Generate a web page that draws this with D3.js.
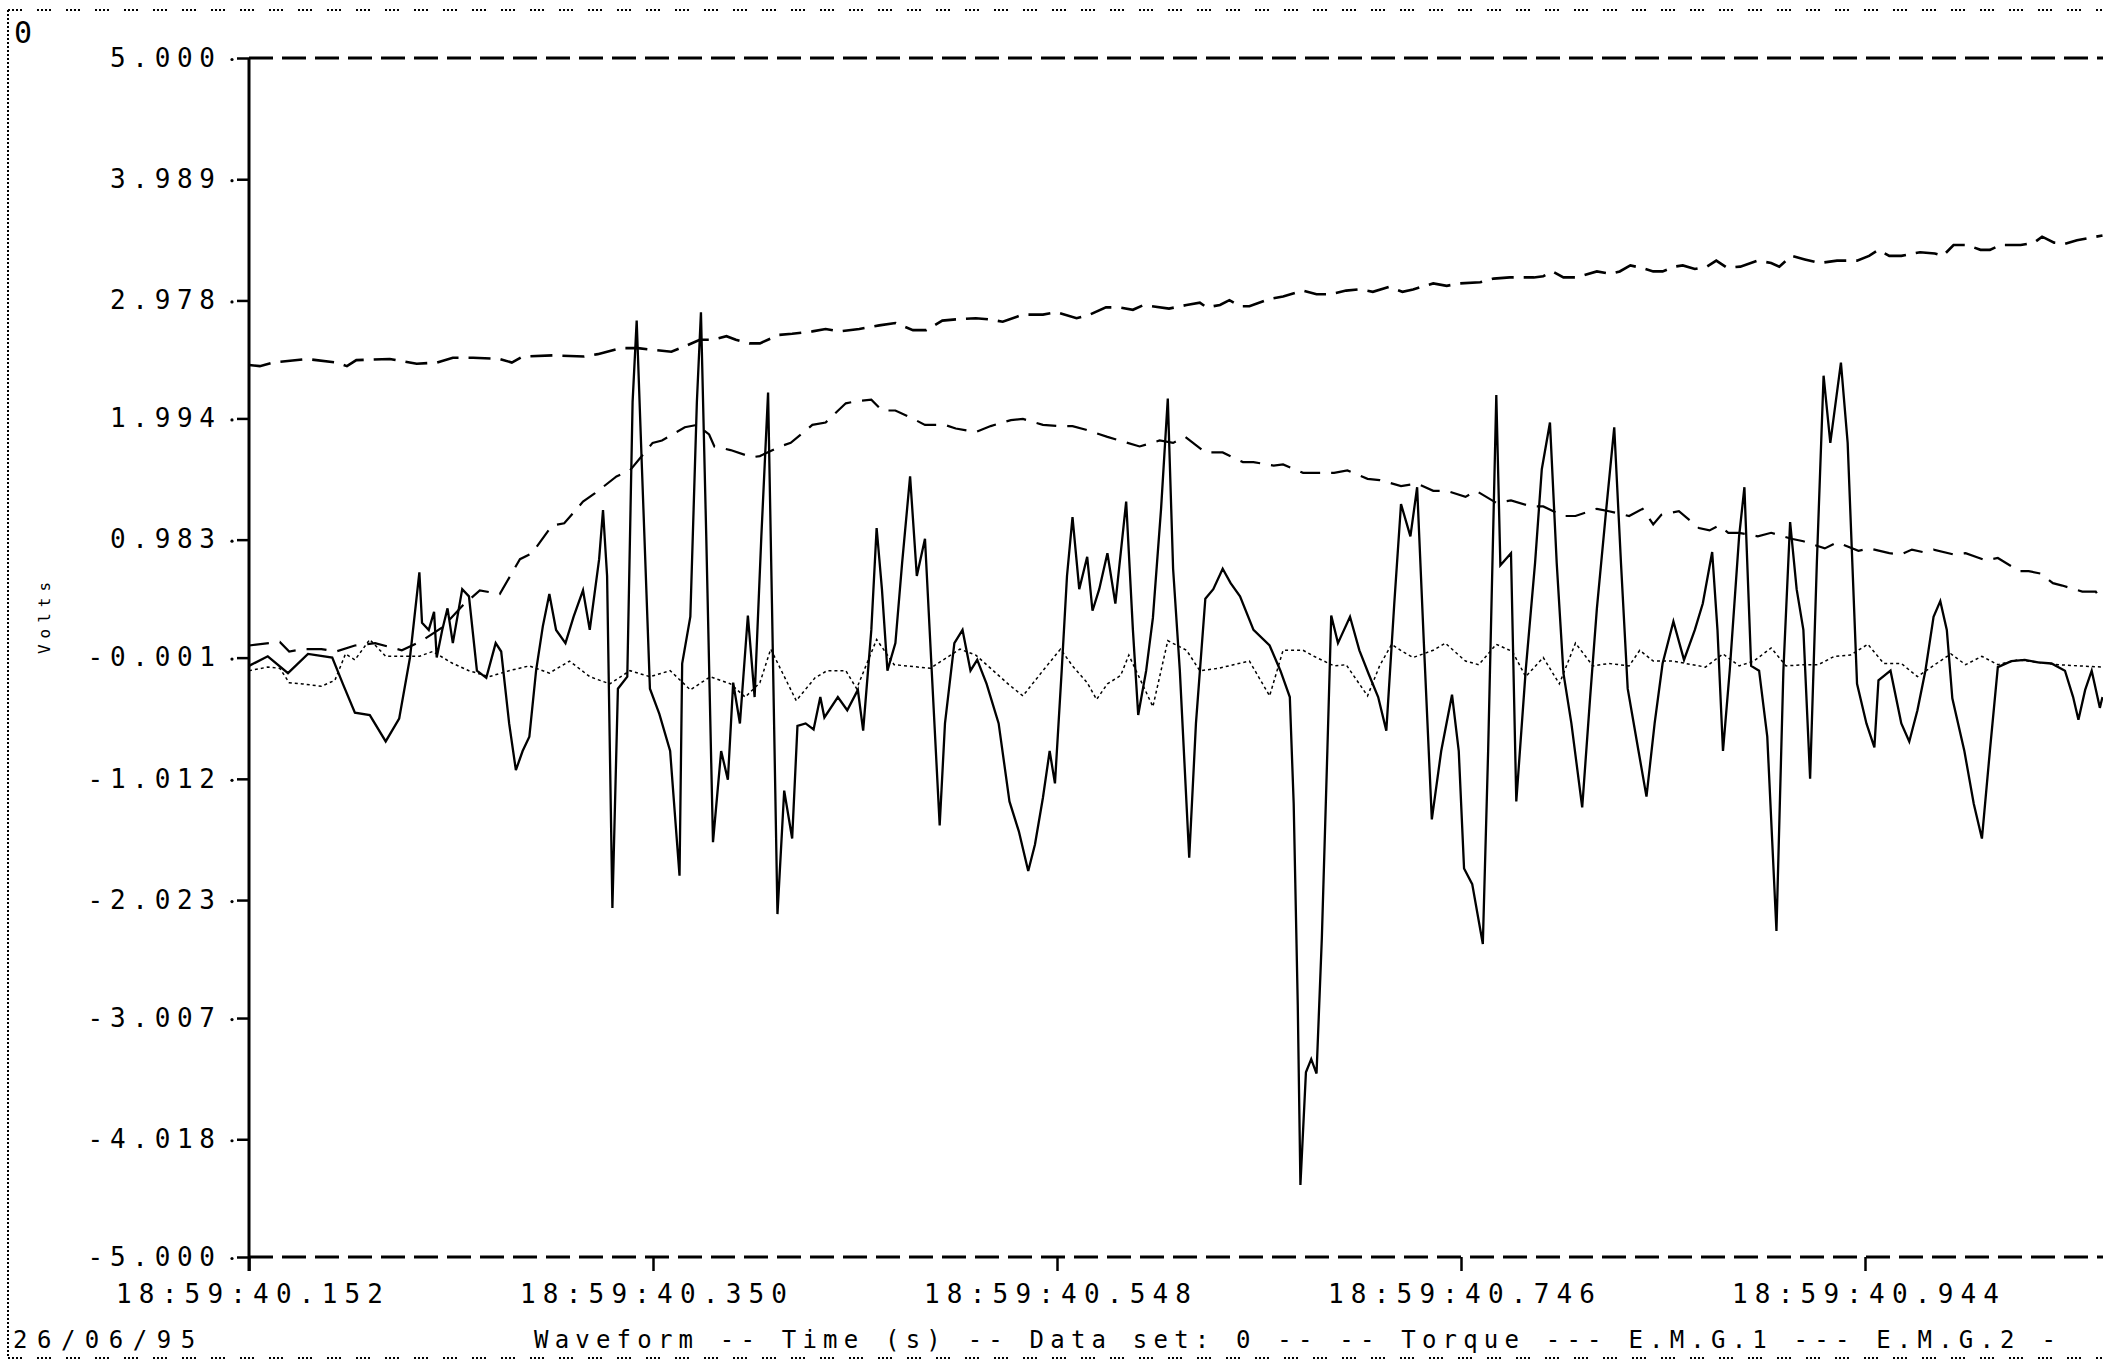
<!DOCTYPE html>
<html><head><meta charset="utf-8">
<script src="https://cdn.jsdelivr.net/npm/d3@7"></script>
<style>html,body{margin:0;padding:0;background:#fff;overflow:hidden}</style>
</head><body>
<script>
// ---- axis tick data ----
const yTickValues = [5.000, 3.989, 2.978, 1.994, 0.983, -0.001, -1.012, -2.023, -3.007, -4.018, -5.000];
const yTickLabels = ["5.000","3.989","2.978","1.994","0.983","-0.001","-1.012","-2.023","-3.007","-4.018","-5.000"];
// time in ms after 18:59:40
const xTickValues = [152, 350, 548, 746, 944];
const xTickLabels = ["18:59:40.152","18:59:40.350","18:59:40.548","18:59:40.746","18:59:40.944"];
const yTitle = "Volts";
const dateText = "26/06/95";
const footerText = "Waveform -- Time (s) -- Data set: 0 -- -- Torque --- E.M.G.1 --- E.M.G.2 -";
const cornerText = "0";

// ---- series: [time ms, volts] ----
const torque = [[152.0,2.44],[157.3,2.43],[163.8,2.46],[180.3,2.49],[194.7,2.46],[200.0,2.43],[204.6,2.48],[221.0,2.49],[234.2,2.45],[244.0,2.46],[251.9,2.50],[261.8,2.50],[274.9,2.49],[280.8,2.46],[286.1,2.51],[301.2,2.52],[316.3,2.51],[322.9,2.53],[334.1,2.58],[342.6,2.58],[359.0,2.55],[366.3,2.60],[372.9,2.65],[379.4,2.65],[386.0,2.68],[390.6,2.65],[397.2,2.62],[402.4,2.62],[411.6,2.69],[418.2,2.70],[428.1,2.72],[434.6,2.74],[441.2,2.72],[451.1,2.74],[460.9,2.77],[468.8,2.79],[477.4,2.73],[483.9,2.73],[491.8,2.81],[498.4,2.82],[508.2,2.83],[514.8,2.82],[521.4,2.80],[531.3,2.86],[541.1,2.86],[547.7,2.88],[557.6,2.83],[564.1,2.86],[572.0,2.92],[578.6,2.92],[585.2,2.90],[590.4,2.94],[602.9,2.91],[611.5,2.94],[618.0,2.96],[621.3,2.92],[627.9,2.94],[632.5,2.98],[637.7,2.93],[642.3,2.93],[652.2,2.99],[658.8,3.01],[668.6,3.06],[675.2,3.03],[681.8,3.03],[689.7,3.06],[696.2,3.07],[702.8,3.05],[710.7,3.09],[717.3,3.05],[722.5,3.07],[732.4,3.12],[739.0,3.10],[745.5,3.12],[755.4,3.13],[762.0,3.16],[769.9,3.17],[781.7,3.17],[786.3,3.18],[790.9,3.22],[796.2,3.17],[802.7,3.17],[812.6,3.22],[819.2,3.20],[823.8,3.22],[829.0,3.27],[834.3,3.25],[840.2,3.22],[844.8,3.22],[850.7,3.26],[854.7,3.27],[860.6,3.24],[866.5,3.26],[871.1,3.31],[876.4,3.25],[882.9,3.26],[891.5,3.31],[898.0,3.29],[902.0,3.26],[907.9,3.35],[914.5,3.32],[921.7,3.29],[930.3,3.31],[940.1,3.31],[946.0,3.35],[950.6,3.40],[955.9,3.35],[961.8,3.35],[971.0,3.38],[978.2,3.37],[982.2,3.35],[987.4,3.44],[994.0,3.44],[1000.6,3.40],[1005.2,3.40],[1010.4,3.44],[1020.3,3.44],[1026.9,3.46],[1030.8,3.51],[1036.7,3.46],[1042.0,3.45],[1047.9,3.48],[1060.4,3.52]];

const emg1 = [[152.0,0.10],[167.1,0.13],[171.7,0.05],[178.3,0.07],[187.5,0.07],[194.7,0.05],[203.9,0.10],[213.8,0.12],[226.9,0.06],[236.8,0.14],[246.7,0.25],[256.5,0.43],[265.1,0.56],[274.9,0.53],[284.8,0.82],[290.7,0.87],[300.5,1.10],[306.5,1.12],[315.7,1.30],[321.6,1.37],[332.1,1.51],[338.7,1.56],[349.8,1.79],[354.4,1.81],[365.6,1.92],[371.5,1.94],[377.5,1.86],[380.1,1.76],[388.0,1.73],[398.5,1.67],[402.4,1.68],[412.3,1.76],[417.5,1.79],[428.1,1.94],[434.6,1.96],[444.5,2.12],[450.4,2.14],[457.0,2.15],[462.2,2.06],[468.8,2.06],[478.7,1.98],[483.3,1.94],[493.1,1.94],[498.4,1.91],[508.2,1.88],[515.5,1.93],[525.4,1.98],[531.3,1.99],[541.1,1.94],[549.0,1.93],[555.6,1.93],[562.2,1.90],[572.7,1.84],[578.6,1.81],[588.5,1.76],[598.3,1.81],[604.9,1.79],[610.8,1.84],[620.7,1.71],[629.2,1.71],[639.1,1.63],[644.3,1.63],[654.2,1.60],[658.8,1.61],[668.6,1.54],[673.9,1.54],[683.8,1.54],[690.3,1.56],[700.2,1.49],[706.1,1.48],[716.6,1.43],[724.5,1.45],[732.4,1.39],[739.0,1.39],[748.2,1.34],[753.4,1.39],[763.3,1.29],[770.5,1.31],[780.4,1.26],[786.3,1.26],[796.2,1.18],[802.1,1.18],[812.6,1.24],[818.5,1.22],[828.4,1.18],[835.0,1.24],[840.2,1.11],[844.2,1.19],[852.8,1.22],[862.6,1.08],[867.8,1.06],[872.4,1.10],[877.0,1.04],[882.3,1.04],[891.5,1.01],[898.0,1.04],[907.9,0.99],[913.8,0.97],[924.3,0.91],[930.3,0.96],[940.8,0.89],[946.0,0.91],[955.9,0.87],[961.8,0.86],[967.0,0.90],[972.3,0.88],[977.6,0.90],[987.4,0.86],[993.3,0.87],[1003.2,0.81],[1009.1,0.83],[1019.6,0.72],[1024.2,0.72],[1030.1,0.70],[1036.1,0.62],[1040.7,0.60],[1050.5,0.55],[1057.1,0.55],[1060.4,0.46]];

const emg2 = [[152.0,-0.07],[161.2,0.01],[171.1,-0.13],[180.9,0.03],[192.8,0.00],[198.0,-0.22],[203.9,-0.46],[211.2,-0.48],[219.0,-0.70],[225.6,-0.51],[230.9,0.00],[235.5,0.71],[236.8,0.29],[240.1,0.23],[242.7,0.38],[244.0,0.00],[246.7,0.23],[249.3,0.41],[251.9,0.12],[256.5,0.57],[259.8,0.51],[263.7,-0.11],[268.3,-0.17],[272.9,0.12],[275.6,0.05],[279.5,-0.55],[282.8,-0.94],[286.1,-0.78],[289.4,-0.66],[292.7,-0.11],[296.0,0.26],[299.2,0.53],[302.5,0.23],[307.1,0.12],[311.1,0.34],[315.7,0.56],[319.0,0.23],[323.6,0.82],[325.5,1.23],[327.5,0.68],[330.1,-2.09],[332.8,-0.26],[337.4,-0.16],[340.0,2.13],[342.0,2.81],[344.6,1.57],[348.5,-0.26],[353.1,-0.47],[358.4,-0.78],[363.0,-1.82],[364.3,-0.05],[368.3,0.34],[371.5,2.13],[373.5,2.88],[376.1,1.01],[379.4,-1.54],[383.4,-0.78],[386.7,-1.02],[389.3,-0.21],[392.6,-0.55],[396.5,0.35],[399.8,-0.33],[403.1,1.01],[406.4,2.21],[408.3,0.45],[411.0,-2.14],[414.3,-1.11],[418.2,-1.51],[420.8,-0.57],[424.8,-0.55],[428.7,-0.60],[432.0,-0.33],[434.0,-0.50],[440.6,-0.33],[445.2,-0.44],[450.4,-0.27],[453.0,-0.61],[457.0,0.23],[459.6,1.08],[462.2,0.57],[464.9,-0.11],[468.8,0.12],[472.1,0.79],[476.0,1.51],[479.3,0.68],[483.3,0.99],[486.6,-0.11],[490.5,-1.40],[493.1,-0.55],[497.7,0.12],[501.7,0.23],[505.6,-0.11],[508.9,-0.02],[513.5,-0.22],[519.4,-0.55],[524.7,-1.20],[529.3,-1.45],[533.9,-1.78],[537.2,-1.56],[541.1,-1.17],[544.4,-0.78],[547.0,-1.05],[550.3,-0.11],[552.9,0.68],[555.6,1.17],[558.9,0.57],[562.8,0.84],[565.4,0.39],[568.7,0.57],[572.7,0.87],[576.6,0.45],[581.9,1.30],[585.2,0.23],[587.8,-0.48],[591.7,-0.11],[595.0,0.33],[599.0,1.24],[602.3,2.16],[604.9,0.74],[608.2,-0.11],[612.8,-1.67],[616.1,-0.55],[620.7,0.49],[624.6,0.57],[629.2,0.74],[633.1,0.62],[637.7,0.51],[644.3,0.23],[652.2,0.10],[657.5,-0.11],[662.1,-0.33],[664.0,-1.22],[666.0,-2.90],[667.3,-4.40],[670.0,-3.46],[672.6,-3.35],[675.2,-3.47],[677.8,-2.34],[680.5,-0.78],[682.4,0.35],[685.7,0.12],[691.6,0.34],[696.2,0.06],[700.8,-0.14],[705.4,-0.33],[709.4,-0.61],[713.3,0.45],[716.6,1.28],[721.2,1.01],[724.5,1.42],[727.8,0.12],[731.7,-1.35],[736.3,-0.78],[741.6,-0.31],[744.9,-0.78],[747.5,-1.76],[751.5,-1.89],[756.7,-2.39],[759.3,-0.78],[763.3,2.19],[765.3,0.77],[770.5,0.87],[773.1,-1.20],[777.7,-0.11],[782.3,0.79],[785.6,1.57],[789.6,1.96],[792.9,0.79],[796.2,-0.13],[800.1,-0.55],[805.4,-1.25],[809.3,-0.33],[812.6,0.41],[817.2,1.24],[821.1,1.92],[824.4,0.79],[827.7,-0.26],[833.0,-0.78],[836.9,-1.16],[840.9,-0.55],[844.8,-0.05],[850.1,0.30],[855.3,-0.02],[860.6,0.23],[864.5,0.45],[869.1,0.88],[871.7,0.23],[874.4,-0.78],[877.7,-0.11],[882.3,1.01],[884.9,1.42],[888.2,-0.07],[892.1,-0.11],[896.1,-0.66],[900.6,-2.28],[904.0,-0.11],[907.3,1.13],[910.5,0.57],[913.8,0.23],[917.1,-1.01],[920.4,0.79],[923.7,2.35],[927.0,1.79],[932.2,2.46],[935.5,1.79],[940.1,-0.22],[944.7,-0.55],[948.6,-0.75],[950.6,-0.19],[956.5,-0.11],[961.8,-0.55],[965.7,-0.70],[969.7,-0.44],[973.6,-0.11],[977.6,0.34],[980.9,0.47],[984.1,0.23],[986.8,-0.34],[992.7,-0.78],[997.3,-1.22],[1001.3,-1.51],[1005.2,-0.78],[1009.1,-0.08],[1015.7,-0.03],[1022.3,-0.02],[1028.8,-0.04],[1035.4,-0.05],[1042.0,-0.11],[1046.0,-0.33],[1048.6,-0.52],[1051.9,-0.27],[1055.1,-0.11],[1059.1,-0.42],[1060.4,-0.33]];

const ch4 = [[152.0,-0.11],[161.2,-0.08],[167.1,-0.09],[171.7,-0.21],[178.3,-0.22],[187.5,-0.24],[194.1,-0.19],[199.3,0.03],[203.9,-0.02],[211.2,0.15],[219.0,0.01],[225.6,0.01],[235.5,0.01],[242.0,0.05],[251.9,-0.05],[259.8,-0.11],[269.7,-0.16],[279.5,-0.11],[289.4,-0.07],[299.2,-0.13],[309.1,-0.03],[319.0,-0.16],[328.8,-0.22],[338.7,-0.11],[348.5,-0.16],[358.4,-0.11],[368.3,-0.27],[378.1,-0.16],[388.0,-0.22],[395.2,-0.33],[402.4,-0.21],[407.7,0.07],[420.2,-0.36],[429.4,-0.17],[435.3,-0.11],[444.5,-0.11],[449.8,-0.26],[459.6,0.15],[468.2,-0.06],[485.9,-0.09],[500.4,0.07],[508.2,0.02],[514.8,-0.08],[524.7,-0.23],[531.3,-0.32],[541.1,-0.11],[549.7,0.07],[555.6,-0.07],[562.8,-0.21],[567.4,-0.35],[572.7,-0.22],[579.2,-0.15],[583.2,0.02],[595.0,-0.41],[602.3,0.14],[611.5,0.06],[618.0,-0.11],[627.2,-0.09],[637.1,-0.05],[642.3,-0.03],[652.2,-0.32],[658.8,0.06],[668.6,0.06],[673.9,0.01],[683.8,-0.07],[689.7,-0.06],[700.2,-0.32],[706.1,-0.07],[712.0,0.11],[717.3,0.05],[722.5,0.00],[732.4,0.06],[738.3,0.12],[748.2,-0.03],[754.7,-0.06],[763.3,0.11],[771.2,0.05],[777.7,-0.16],[786.3,0.00],[794.2,-0.22],[802.1,0.12],[810.6,-0.07],[818.5,-0.05],[828.4,-0.07],[833.6,0.06],[840.2,-0.03],[850.1,-0.03],[859.3,-0.06],[865.8,-0.08],[874.4,0.03],[882.3,-0.07],[889.5,-0.03],[898.0,0.08],[905.3,-0.07],[913.8,-0.06],[921.1,-0.06],[929.0,0.01],[936.8,0.02],[945.4,0.11],[953.2,-0.05],[961.8,-0.05],[969.7,-0.16],[978.2,-0.06],[986.1,0.03],[993.3,-0.06],[1001.3,0.01],[1009.1,-0.06],[1019.0,-0.02],[1028.8,-0.04],[1038.7,-0.06],[1048.6,-0.07],[1060.4,-0.08]];

// ---- drawing ----
const W = 2103, H = 1363;
const FONT = "'DejaVu Sans Mono', 'Liberation Mono', monospace";
const svg = d3.select("body").append("svg").attr("width", W).attr("height", H)
  .style("display","block").style("background","#fff");

const x = d3.scaleLinear().domain([152, 944]).range([249, 1865]);
const y = d3.scaleLinear().domain([-5, 5]).range([1257, 58]);

// page border (dotted)
svg.append("line").attr("x1",8).attr("x2",W).attr("y1",10).attr("y2",10)
  .attr("stroke","#000").attr("stroke-width",2).attr("stroke-dasharray","2,2,2,2,2,2,2,15");
svg.append("line").attr("x1",8).attr("x2",W).attr("y1",1358).attr("y2",1358)
  .attr("stroke","#000").attr("stroke-width",2).attr("stroke-dasharray","2,2,2,2,2,2,2,15");
svg.append("line").attr("x1",8).attr("x2",8).attr("y1",10).attr("y2",1358)
  .attr("stroke","#000").attr("stroke-width",2).attr("stroke-dasharray","2,2");

svg.append("text").attr("x",14).attr("y",43).attr("font-family",FONT).attr("font-size",30)
  .text(cornerText);

// top & bottom dashed frame lines
[5, -5].forEach(v => {
  svg.append("line").attr("x1", x(152)).attr("x2", W).attr("y1", y(v)).attr("y2", y(v))
    .attr("stroke","#000").attr("stroke-width",3).attr("stroke-dasharray","24,9");
});

// y axis
const yAxis = d3.axisLeft(y).tickValues(yTickValues)
  .tickFormat((d,i) => yTickLabels[i]).tickSize(12).tickPadding(22);
const gy = svg.append("g").attr("transform",`translate(${x(152)},0)`).call(yAxis);
gy.select(".domain").remove();
gy.selectAll(".tick line").attr("stroke","#000").attr("stroke-width",2.5);
gy.selectAll(".tick text").attr("font-family",FONT).attr("font-size",26)
  .attr("letter-spacing",6.7).attr("dx",6.7).attr("fill","#000");
gy.selectAll(".tick").append("circle").attr("cx",-17).attr("cy",1).attr("r",1.6).attr("fill","#000");
svg.append("line").attr("x1",x(152)).attr("x2",x(152)).attr("y1",y(5)).attr("y2",y(-5)+14)
  .attr("stroke","#000").attr("stroke-width",3);

// x axis
const xAxis = d3.axisBottom(x).tickValues(xTickValues)
  .tickFormat((d,i) => xTickLabels[i]).tickSize(14).tickPadding(14);
const gx = svg.append("g").attr("transform",`translate(0,${y(-5)})`).call(xAxis);
gx.select(".domain").remove();
gx.selectAll(".tick line").attr("stroke","#000").attr("stroke-width",2.5);
gx.selectAll(".tick text").attr("font-family",FONT).attr("font-size",26)
  .attr("letter-spacing",7.2).attr("dx",3.6).attr("fill","#000");

// y title
svg.append("text").attr("transform","translate(50,615) rotate(-90)")
  .attr("text-anchor","middle").attr("font-family",FONT).attr("font-size",16)
  .attr("letter-spacing",6).text(yTitle);

// footer
svg.append("text").attr("x",13).attr("y",1348).attr("font-family",FONT).attr("font-size",24)
  .attr("letter-spacing",9.5).text(dateText);
svg.append("text").attr("x",534).attr("y",1348).attr("font-family",FONT).attr("font-size",24)
  .attr("letter-spacing",6.2).attr("xml:space","preserve").style("white-space","pre").text(footerText);

// series
const line = d3.line().x(d => x(d[0])).y(d => y(d[1]));
const series = [
  {data: ch4, w: 1.5, dash: "3,3"},
  {data: emg1, w: 2.2, dash: "20,11"},
  {data: torque, w: 2.6, dash: "22,10"},
  {data: emg2, w: 2.3, dash: null}
];
series.forEach(s => {
  const p = svg.append("path").datum(s.data).attr("d", line)
    .attr("fill","none").attr("stroke","#000").attr("stroke-width", s.w)
    .attr("stroke-linejoin","miter");
  if (s.dash) p.attr("stroke-dasharray", s.dash);
});
</script>
</body></html>
